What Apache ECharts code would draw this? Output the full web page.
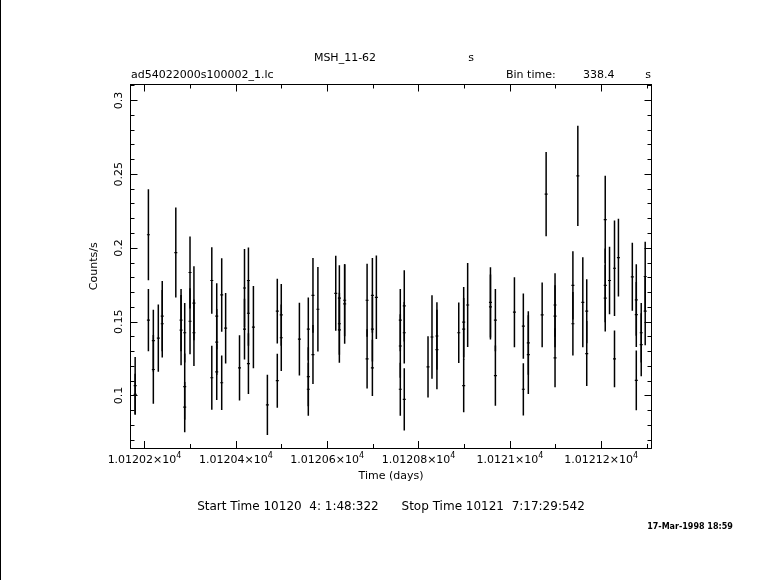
<!DOCTYPE html>
<html>
<head>
<meta charset="utf-8">
<script src="https://cdn.jsdelivr.net/npm/echarts@6/dist/echarts.min.js"></script>
<style>
html,body{margin:0;padding:0;background:#fff;}
#chart{width:781px;height:580px;}
</style>
</head>
<body>
<div id="chart"></div>
<script>
// ---- data ----
const binTimeSec = 338.4;
const times = [
 10120.1795,10120.1795,10120.2085,10120.2085,10120.2193,10120.2193,10120.2302,10120.2388,10120.2388,10120.2685,
 10120.2800,10120.2800,10120.2880,10120.2880,10120.2880,10120.2996,10120.2996,10120.3082,10120.3082,10120.3473,
 10120.3473,10120.3581,10120.3581,10120.3581,10120.3690,10120.3690,10120.3776,10120.4080,10120.4189,10120.4189,
 10120.4275,10120.4275,10120.4275,10120.4384,
 10120.4690,10120.4907,10120.4907,10120.4994,10120.4994,10120.5391,10120.5586,10120.5586,10120.5586,10120.5688,
 10120.5688,10120.5796,10120.6187,10120.6266,10120.6266,10120.6266,10120.6382,10120.6382,10120.6873,10120.6873,
 10120.6989,10120.6989,10120.6989,10120.7076,
 10120.7600,10120.7600,10120.7600,10120.7687,10120.7687,10120.7687,10120.8207,10120.8294,10120.8402,10120.8402,
 10120.8880,10120.8988,10120.8988,10120.8988,10120.9075,10120.9574,10120.9574,10120.9682,10120.9682,
 10121.0099,10121.0294,10121.0294,10121.0403,10121.0403,10121.0706,10121.0793,10121.0988,10121.0988,10121.0988,
 10121.1379,10121.1379,10121.1487,10121.1596,10121.1682,10121.1682,10121.2087,10121.2087,10121.2087,10121.2181,
 10121.2290,10121.2290,10121.2376,10121.2680,10121.2767,10121.2767,10121.2767,10121.2875,10121.2875,10121.2962,
 10121.2962
];
const rates = [
 0.1067,0.1009,0.2090,0.1511,0.1372,0.1177,0.1390,0.1538,0.1487,0.1969,
 0.1511,0.1444,0.1426,0.1061,0.0922,0.1834,0.1504,0.1626,0.1426,0.1780,
 0.1121,0.1538,0.1363,0.1161,0.1682,0.1087,0.1457,0.1188,0.1729,0.1451,
 0.1780,0.1558,0.1217,0.1464,
 0.0937,0.1572,0.1101,0.1547,0.1392,0.1383,0.1451,0.1128,0.1043,0.1679,
 0.1278,0.1585,0.1693,0.1661,0.1487,0.1446,0.1646,0.1621,0.1646,0.1249,
 0.1679,0.1451,0.1188,0.1666,
 0.1511,0.1336,0.1043,0.1608,0.1426,0.0975,0.1195,0.1397,0.1404,0.1312,
 0.1426,0.1498,0.1451,0.1067,0.1614,0.1632,0.1601,0.1511,0.1135,
 0.1565,0.1471,0.1043,0.1357,0.1278,0.1547,0.2365,0.1614,0.1538,0.1256,
 0.1747,0.1487,0.2489,0.1632,0.1572,0.1285,0.2193,0.1747,0.1661,0.1780,
 0.1863,0.1249,0.1935,0.1805,0.1648,0.1549,0.1103,0.1426,0.1345,0.1807,
 0.1572
];
const errors = [
 0.0194,0.0139,0.0309,0.0211,0.0209,0.0233,0.0228,0.0238,0.0229,0.0305,
 0.0211,0.0238,0.0202,0.0224,0.0170,0.0244,0.0224,0.0251,0.0226,0.0226,
 0.0216,0.0224,0.0224,0.0191,0.0249,0.0184,0.0239,0.0221,0.0265,0.0206,
 0.0224,0.0220,0.0206,0.0279,
 0.0204,0.0219,0.0183,0.0209,0.0226,0.0246,0.0213,0.0200,0.0179,0.0253,
 0.0200,0.0286,0.0254,0.0222,0.0210,0.0224,0.0244,0.0269,0.0247,0.0200,
 0.0253,0.0220,0.0191,0.0283,
 0.0211,0.0215,0.0179,0.0242,0.0209,0.0211,0.0207,0.0283,0.0229,0.0269,
 0.0205,0.0238,0.0210,0.0179,0.0284,0.0238,0.0220,0.0211,0.0204,
 0.0237,0.0221,0.0177,0.0215,0.0267,0.0219,0.0285,0.0215,0.0210,0.0200,
 0.0231,0.0215,0.0339,0.0305,0.0217,0.0220,0.0296,0.0250,0.0226,0.0228,
 0.0324,0.0193,0.0263,0.0230,0.0242,0.0220,0.0202,0.0202,0.0213,0.0235,
 0.0231
];

// axis ranges and ticks
const xRange = [10120.1693, 10121.310];
const yRange = [0.0645, 0.3108];
const xMajorTicks = [10120.2, 10120.4, 10120.6, 10120.8, 10121.0, 10121.2];
const xMajorLabels = ['1.01202', '1.01204', '1.01206', '1.01208', '1.0121', '1.01212'];
const xLabelExponent = '4';
const xMinorTicks = [10120.3, 10120.5, 10120.7, 10120.9, 10121.1, 10121.3];
const yMajorTicks = [0.1, 0.15, 0.2, 0.25, 0.3];
const yMajorLabels = ['0.1', '0.15', '0.2', '0.25', '0.3'];
const yMinorTicks = [0.07, 0.08, 0.09, 0.11, 0.12, 0.13, 0.14, 0.16, 0.17, 0.18, 0.19, 0.21, 0.22, 0.23, 0.24, 0.26, 0.27, 0.28, 0.29, 0.31];

// ---- chart ----
const FONT = 'DejaVu Sans';
const halfBin = binTimeSec / 86400 / 2;
const seriesData = times.map((t, i) => [t, rates[i], errors[i]]);

function nearestIndex(arr, v) {
  let best = 0;
  for (let i = 1; i < arr.length; i++) if (Math.abs(arr[i] - v) < Math.abs(arr[best] - v)) best = i;
  return best;
}

const chart = echarts.init(document.getElementById('chart'), null, {renderer: 'canvas'});

const baseAxis = (extra) => Object.assign({
  type: 'value',
  splitLine: {show: false},
  axisLine: {show: false},
  axisLabel: {show: false},
  axisTick: {show: false}
}, extra);

const tickStyle = {color: '#000', width: 1};

const option = {
  backgroundColor: '#fff',
  animation: false,
  grid: {left: 130.5, top: 84.5, width: 521, height: 363.5, containLabel: false},
  xAxis: [
    baseAxis({
      position: 'bottom', min: xRange[0], max: xRange[1],
      axisLine: {show: true, onZero: false, lineStyle: {color: '#000', width: 1}},
      axisTick: {show: true, inside: true, length: 7, customValues: xMajorTicks, lineStyle: tickStyle},
      axisLabel: {
        show: true, customValues: xMajorTicks, margin: 4, color: '#000',
        fontFamily: FONT, fontSize: 11,
        formatter: v => '{m|' + xMajorLabels[nearestIndex(xMajorTicks, v)] + '×10}{s|' + xLabelExponent + '}',
        rich: {
          m: {fontFamily: FONT, fontSize: 11, color: '#000', verticalAlign: 'bottom', lineHeight: 14},
          s: {fontFamily: FONT, fontSize: 8, color: '#000', verticalAlign: 'top', lineHeight: 14}
        }
      },
      name: 'Time (days)', nameLocation: 'middle', nameGap: 20,
      nameTextStyle: {fontFamily: FONT, fontSize: 11, color: '#000'}
    }),
    baseAxis({
      position: 'bottom', offset: 0, min: xRange[0], max: xRange[1],
      axisTick: {show: true, inside: true, length: 4, customValues: xMinorTicks, lineStyle: tickStyle}
    }),
    baseAxis({
      position: 'top', offset: 0, min: xRange[0], max: xRange[1],
      axisLine: {show: true, onZero: false, lineStyle: {color: '#000', width: 1}},
      axisTick: {show: true, inside: true, length: 7, customValues: xMajorTicks, lineStyle: tickStyle}
    }),
    baseAxis({
      position: 'top', offset: 0, min: xRange[0], max: xRange[1],
      axisTick: {show: true, inside: true, length: 4, customValues: xMinorTicks, lineStyle: tickStyle}
    })
  ],
  yAxis: [
    baseAxis({
      position: 'left', min: yRange[0], max: yRange[1],
      axisLine: {show: true, onZero: false, lineStyle: {color: '#000', width: 1}},
      axisTick: {show: true, inside: true, length: 7, customValues: yMajorTicks, lineStyle: tickStyle},
      axisLabel: {
        show: true, customValues: yMajorTicks, rotate: 90, margin: 6, color: '#000',
        fontFamily: FONT, fontSize: 11,
        formatter: v => yMajorLabels[nearestIndex(yMajorTicks, v)]
      },
      name: 'Counts/s', nameLocation: 'middle', nameGap: 31, nameRotate: 90,
      nameTextStyle: {fontFamily: FONT, fontSize: 11, color: '#000'}
    }),
    baseAxis({
      position: 'left', offset: 0, min: yRange[0], max: yRange[1],
      axisTick: {show: true, inside: true, length: 4, customValues: yMinorTicks, lineStyle: tickStyle}
    }),
    baseAxis({
      position: 'right', offset: 0, min: yRange[0], max: yRange[1],
      axisLine: {show: true, onZero: false, lineStyle: {color: '#000', width: 1}},
      axisTick: {show: true, inside: true, length: 7, customValues: yMajorTicks, lineStyle: tickStyle}
    }),
    baseAxis({
      position: 'right', offset: 0, min: yRange[0], max: yRange[1],
      axisTick: {show: true, inside: true, length: 4, customValues: yMinorTicks, lineStyle: tickStyle}
    })
  ],
  series: [{
    type: 'custom',
    xAxisIndex: 0, yAxisIndex: 0,
    encode: {x: 0, y: 1},
    data: seriesData,
    clip: true,
    renderItem: function (params, api) {
      const t = api.value(0), r = api.value(1), e = api.value(2);
      const top = api.coord([t, r + e]);
      const bot = api.coord([t, r - e]);
      const l = api.coord([t - halfBin, r]);
      const rr = api.coord([t + halfBin, r]);
      return {
        type: 'group',
        children: [
          {type: 'line', shape: {x1: top[0], y1: top[1], x2: bot[0], y2: bot[1]},
           style: {stroke: '#000', lineWidth: 1.5}},
          {type: 'line', shape: {x1: l[0] - 0.6, y1: l[1], x2: rr[0] + 0.6, y2: rr[1]},
           style: {stroke: '#000', lineWidth: 1.2}}
        ]
      };
    }
  }],
  graphic: [
    {type: 'line', shape: {x1: 0.5, y1: 0, x2: 0.5, y2: 580}, style: {stroke: '#000', lineWidth: 1}},
    {type: 'text', x: 345, y: 58, style: {text: 'MSH_11-62', font: '11px "DejaVu Sans"', fill: '#000', textAlign: 'center', textVerticalAlign: 'middle'}},
    {type: 'text', x: 471, y: 58, style: {text: 's', font: '11px "DejaVu Sans"', fill: '#000', textAlign: 'center', textVerticalAlign: 'middle'}},
    {type: 'text', x: 131, y: 75, style: {text: 'ad54022000s100002_1.lc', font: '11px "DejaVu Sans"', fill: '#000', textAlign: 'left', textVerticalAlign: 'middle'}},
    {type: 'text', x: 506, y: 75, style: {text: 'Bin time:', font: '11px "DejaVu Sans"', fill: '#000', textAlign: 'left', textVerticalAlign: 'middle'}},
    {type: 'text', x: 583, y: 75, style: {text: '338.4', font: '11px "DejaVu Sans"', fill: '#000', textAlign: 'left', textVerticalAlign: 'middle'}},
    {type: 'text', x: 648, y: 75, style: {text: 's', font: '11px "DejaVu Sans"', fill: '#000', textAlign: 'center', textVerticalAlign: 'middle'}},
    {type: 'text', x: 391, y: 507, style: {text: 'Start Time 10120  4: 1:48:322      Stop Time 10121  7:17:29:542', font: '12px "DejaVu Sans"', fill: '#000', textAlign: 'center', textVerticalAlign: 'middle'}},
    {type: 'text', x: 690, y: 527, style: {text: '17-Mar-1998 18:59', font: 'bold 8px "DejaVu Sans"', fill: '#000', textAlign: 'center', textVerticalAlign: 'middle'}}
  ]
};
chart.setOption(option);
</script>
</body>
</html>
